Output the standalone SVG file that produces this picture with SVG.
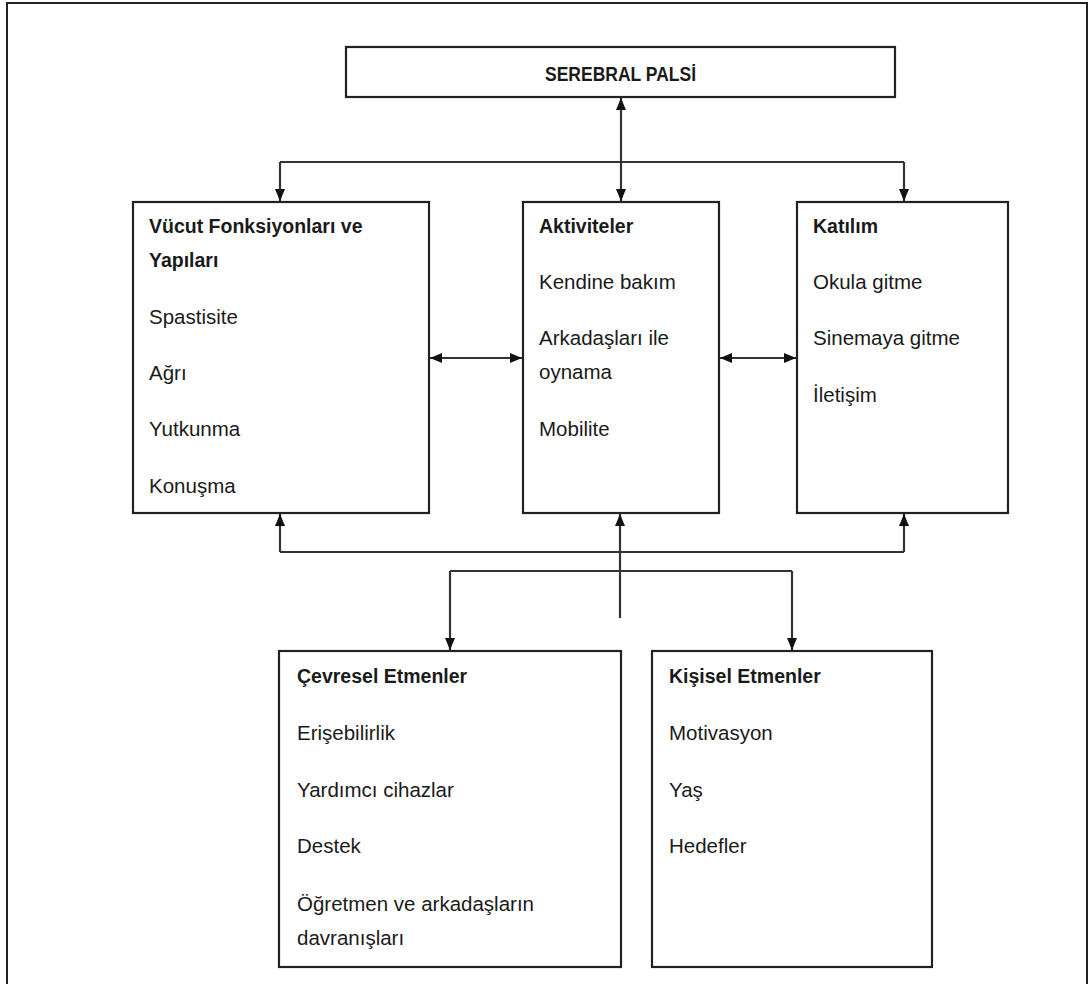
<svg xmlns="http://www.w3.org/2000/svg" width="1088" height="984" viewBox="0 0 1088 984">
  <defs>
    <marker id="ah" markerUnits="userSpaceOnUse" markerWidth="13" markerHeight="13" viewBox="0 0 13 13" refX="12" refY="6.5" orient="auto-start-reverse">
      <path d="M0,1.5 L12,6.5 L0,11.5 Z" fill="#111"/>
    </marker>
  </defs>
  <style>
    .frame { fill: none; stroke: #222; stroke-width: 2; }
    .box { fill: #fff; stroke: #222; stroke-width: 2.2; }
    .ln { fill: none; stroke: #333; stroke-width: 2.2; }
    .arr { fill: none; stroke: #333; stroke-width: 2.2; marker-end: url(#ah); }
    .arr2 { fill: none; stroke: #333; stroke-width: 2.2; marker-start: url(#ah); marker-end: url(#ah); }
    text { font-family: "Liberation Sans", Arial, sans-serif; font-size: 20.5px; fill: #1a1a1a; }
    .h { font-weight: bold; font-size: 19.5px; }
    .title { font-weight: bold; font-size: 21px; }
  </style>
  <rect width="1088" height="984" fill="#fff"/>
  <rect class="frame" x="7" y="3" width="1080" height="1000"/>

  <g id="connectors">
    <line class="arr2" x1="621" y1="98" x2="621" y2="201"/>
    <polyline class="ln" points="280,162 904,162"/>
    <line class="arr" x1="280" y1="162" x2="280" y2="201"/>
    <line class="arr" x1="904" y1="162" x2="904" y2="201"/>
    <line class="arr2" x1="430" y1="358" x2="522" y2="358"/>
    <line class="arr2" x1="720" y1="358" x2="796" y2="358"/>
    <polyline class="ln" points="280,552 904,552"/>
    <line class="arr" x1="280" y1="552" x2="280" y2="514"/>
    <line class="arr" x1="904" y1="552" x2="904" y2="514"/>
    <line class="arr" x1="620" y1="618" x2="620" y2="514"/>
    <polyline class="ln" points="450,571 792,571"/>
    <line class="arr" x1="450" y1="571" x2="450" y2="650"/>
    <line class="arr" x1="792" y1="571" x2="792" y2="650"/>
  </g>

  <g id="serebral-palsi">
    <rect class="box" x="346" y="47" width="549" height="50"/>
    <text class="title" x="620.5" y="81" text-anchor="middle" textLength="151" lengthAdjust="spacingAndGlyphs">SEREBRAL PALSİ</text>
  </g>

  <g id="vucut">
    <rect class="box" x="133" y="202" width="296" height="311"/>
    <text class="h" x="149" y="233">Vücut Fonksiyonları ve</text>
    <text class="h" x="149" y="267">Yapıları</text>
    <text x="149" y="324">Spastisite</text>
    <text x="149" y="380">Ağrı</text>
    <text x="149" y="436">Yutkunma</text>
    <text x="149" y="493">Konuşma</text>
  </g>

  <g id="aktiviteler">
    <rect class="box" x="523" y="202" width="196" height="311"/>
    <text class="h" x="539" y="233">Aktiviteler</text>
    <text x="539" y="289">Kendine bakım</text>
    <text x="539" y="345">Arkadaşları ile</text>
    <text x="539" y="379">oynama</text>
    <text x="539" y="436">Mobilite</text>
  </g>

  <g id="katilim">
    <rect class="box" x="797" y="202" width="211" height="311"/>
    <text class="h" x="813" y="233">Katılım</text>
    <text x="813" y="289">Okula gitme</text>
    <text x="813" y="345">Sinemaya gitme</text>
    <text x="813" y="402">İletişim</text>
  </g>

  <g id="cevresel">
    <rect class="box" x="279" y="651" width="342" height="316"/>
    <text class="h" x="297" y="683">Çevresel Etmenler</text>
    <text x="297" y="740">Erişebilirlik</text>
    <text x="297" y="797">Yardımcı cihazlar</text>
    <text x="297" y="853">Destek</text>
    <text x="297" y="911">Öğretmen ve arkadaşların</text>
    <text x="297" y="945">davranışları</text>
  </g>

  <g id="kisisel">
    <rect class="box" x="652" y="651" width="280" height="316"/>
    <text class="h" x="669" y="683">Kişisel Etmenler</text>
    <text x="669" y="740">Motivasyon</text>
    <text x="669" y="797">Yaş</text>
    <text x="669" y="853">Hedefler</text>
  </g>
</svg>
